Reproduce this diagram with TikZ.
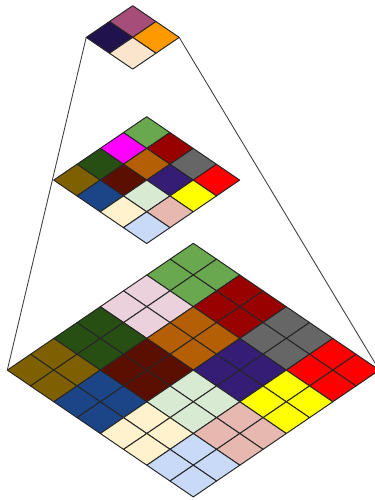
\documentclass[tikz,border=0pt]{standalone}
\usetikzlibrary{calc}
\definecolor{plum}{HTML}{A64D79}
\definecolor{tangerine}{HTML}{FF9900}
\definecolor{midnight}{HTML}{20124D}
\definecolor{peach}{HTML}{FCE5CD}
\definecolor{moss}{HTML}{6AA84F}
\definecolor{wine}{HTML}{990000}
\definecolor{slate}{HTML}{666666}
\definecolor{scarlet}{HTML}{FF0000}
\definecolor{fuchsia}{HTML}{FF00FF}
\definecolor{blush}{HTML}{EAD1DC}
\definecolor{rust}{HTML}{B45F06}
\definecolor{indigo}{HTML}{351C75}
\definecolor{lemon}{HTML}{FFFF00}
\definecolor{forest}{HTML}{274E13}
\definecolor{maroon}{HTML}{5B0F00}
\definecolor{mint}{HTML}{D9EAD3}
\definecolor{rose}{HTML}{E6B8AF}
\definecolor{ochre}{HTML}{7F6000}
\definecolor{navy}{HTML}{1C4587}
\definecolor{cream}{HTML}{FFF2CC}
\definecolor{sky}{HTML}{C9DAF8}

\begin{document}
\begin{tikzpicture}[
    cell/.style={draw=black!85,line width=0.55pt,line join=round},
    link/.style={draw=black!75,line width=0.5pt},
    iso/.style={x={(0.465cm,-0.317cm)},y={(-0.465cm,-0.317cm)}}]
  \useasboundingbox (0,0) rectangle (7.48,-10);
  % top level, 2x2
  \begin{scope}[shift={(2.654,-0.114)},iso]
    \foreach \i/\j/\c in {0/0/plum,0/1/tangerine,1/0/midnight,1/1/peach}
      \filldraw[cell,fill=\c] (\j,\i) -- ++(1,0) -- ++(0,1) -- ++(-1,0) -- cycle;
    \coordinate (top-l) at (0,2);
    \coordinate (top-r) at (2,0);
  \end{scope}
  % middle level, 4x4
  \begin{scope}[shift={(2.934,-2.334)},iso]
    \foreach \i/\j/\c in {0/0/moss,0/1/wine,0/2/slate,0/3/scarlet,
        1/0/fuchsia,1/1/rust,1/2/indigo,1/3/lemon,
        2/0/forest,2/1/maroon,2/2/mint,2/3/rose,
        3/0/ochre,3/1/navy,3/2/cream,3/3/sky}
      \filldraw[cell,fill=\c] (\j,\i) -- ++(1,0) -- ++(0,1) -- ++(-1,0) -- cycle;
  \end{scope}
  % bottom level, 8x8 (2x2 per colour)
  \begin{scope}[shift={(3.866,-4.866)},iso]
    \foreach \i/\j/\c in {0/0/moss,0/1/wine,0/2/slate,0/3/scarlet,
        1/0/blush,1/1/rust,1/2/indigo,1/3/lemon,
        2/0/forest,2/1/maroon,2/2/mint,2/3/rose,
        3/0/ochre,3/1/navy,3/2/cream,3/3/sky}
      \foreach \a in {0,1}
        \foreach \b in {0,1}
          \filldraw[cell,fill=\c] ({2*\j+\b},{2*\i+\a}) -- ++(1,0) -- ++(0,1) -- ++(-1,0) -- cycle;
    \coordinate (base-l) at (0,8);
    \coordinate (base-r) at (8,0);
  \end{scope}
  \draw[link] (top-l) -- (base-l);
  \draw[link] (top-r) -- (base-r);
\end{tikzpicture}
\end{document}
